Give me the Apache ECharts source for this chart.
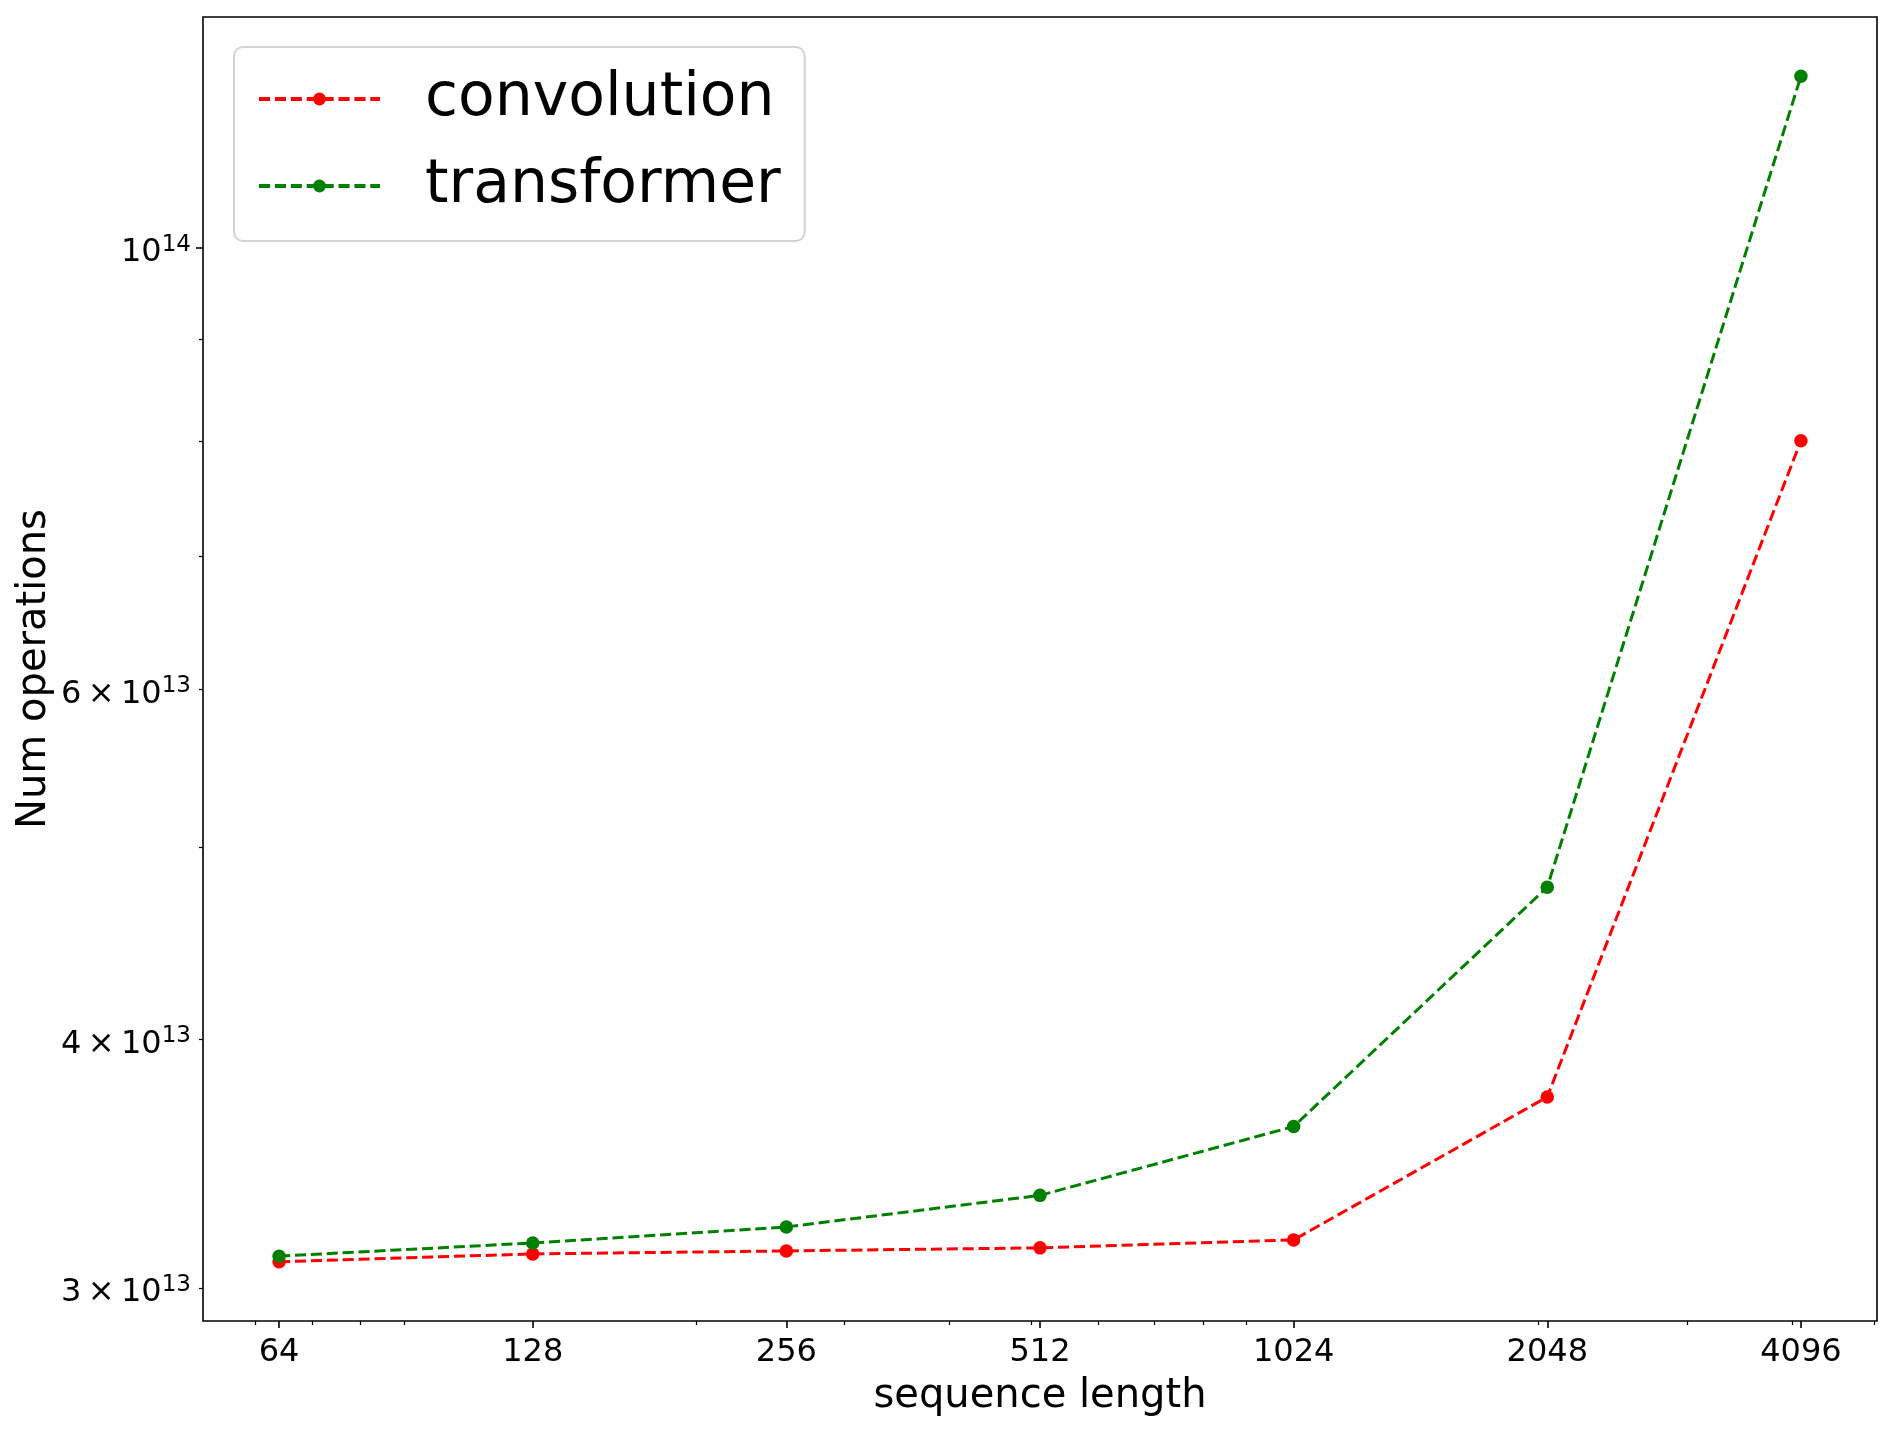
<!DOCTYPE html>
<html>
<head>
<meta charset="utf-8">
<script src="https://cdn.jsdelivr.net/npm/echarts@6/dist/echarts.min.js"></script>
<style>
html, body { margin: 0; padding: 0; background: #fff; }
#chart { width: 1894px; height: 1429px; }
</style>
</head>
<body>
<div id="chart"></div>
<script>
// data (log-log plot)
const seqLen = [64, 128, 256, 512, 1024, 2048, 4096];
const convolution = [3.093e13, 3.121e13, 3.132e13, 3.143e13, 3.172e13, 3.743e13, 8.0e13];
const transformer = [3.113e13, 3.161e13, 3.220e13, 3.340e13, 3.617e13, 4.772e13, 1.22e14];

// tick positions
const xTicks = [64, 128, 256, 512, 1024, 2048, 4096];
const xMinorTicks = [60, 70, 80, 90, 200, 300, 400, 500, 600, 700, 800, 900, 2000, 3000, 4000, 5000];
const yMajorTicks = [1e14];
const yMinorTicks = [3e13, 4e13, 5e13, 6e13, 7e13, 8e13, 9e13];
const yLabelTicks = [3e13, 4e13, 6e13, 1e14];

const FONT = 'DejaVu Sans';
const GRID = { left: 203, top: 17, width: 1674, height: 1304 };
const DASH = [11.1, 4.8];

// matplotlib style 5% margins, in log space
const lx = seqLen.map(Math.log2);
const xLo = Math.min(...lx), xHi = Math.max(...lx);
const xMinL = xLo - 0.05 * (xHi - xLo), xMaxL = xHi + 0.05 * (xHi - xLo);
const ly = convolution.concat(transformer).map(Math.log10);
const yLo = Math.min(...ly), yHi = Math.max(...ly);
const yMinL = yLo - 0.05 * (yHi - yLo), yMaxL = yHi + 0.05 * (yHi - yLo);

function yLabel(v) {
  const val = Math.pow(10, v);
  const e = Math.floor(v + 1e-9);
  const m = Math.round(val / Math.pow(10, e));
  if (m === 1) return '{b|10}{s|' + e + '}';
  return '{b|' + m + '\u2009\u00d7\u200910}{s|' + e + '}';
}

const hidden = { show: false };
const noAxis = { axisLine: hidden, axisTick: hidden, axisLabel: hidden, splitLine: hidden };

const chart = echarts.init(document.getElementById('chart'));
chart.setOption({
  animation: false,
  backgroundColor: '#fff',
  grid: [
    Object.assign({ show: true, borderColor: '#000', borderWidth: 1.6, backgroundColor: 'transparent' }, GRID),
    Object.assign({ show: false }, GRID),
    Object.assign({ show: false }, GRID)
  ],
  xAxis: [
    Object.assign({
      type: 'log', logBase: 2, gridIndex: 0,
      min: Math.pow(2, xMinL), max: Math.pow(2, xMaxL),
      name: 'sequence length', nameLocation: 'middle', nameGap: 56,
      nameTextStyle: { fontSize: 40, fontFamily: FONT, color: '#000' }
    }, noAxis),
    {
      type: 'value', gridIndex: 1, min: xMinL, max: xMaxL,
      axisLine: hidden, splitLine: hidden,
      axisTick: { show: true, length: 7, customValues: xTicks.map(Math.log2), lineStyle: { color: '#000', width: 1.6 } },
      axisLabel: {
        show: true, margin: 15.5, customValues: xTicks.map(Math.log2),
        fontSize: 32, fontFamily: FONT, color: '#000',
        formatter: v => String(Math.round(Math.pow(2, v)))
      }
    },
    {
      type: 'value', gridIndex: 2, min: xMinL, max: xMaxL,
      axisLine: hidden, splitLine: hidden, axisLabel: hidden,
      axisTick: { show: true, length: 4, customValues: xMinorTicks.map(Math.log2), lineStyle: { color: '#000', width: 1.2 } }
    }
  ],
  yAxis: [
    Object.assign({
      type: 'log', logBase: 10, gridIndex: 0,
      min: Math.pow(10, yMinL), max: Math.pow(10, yMaxL),
      name: 'Num operations', nameLocation: 'middle', nameGap: 148,
      nameTextStyle: { fontSize: 40, fontFamily: FONT, color: '#000' }
    }, noAxis),
    {
      type: 'value', gridIndex: 1, min: yMinL, max: yMaxL,
      axisLine: hidden, splitLine: hidden,
      axisTick: { show: true, length: 7, customValues: yMajorTicks.map(Math.log10), lineStyle: { color: '#000', width: 1.6 } },
      axisLabel: {
        show: true, margin: 12, customValues: yLabelTicks.map(Math.log10),
        formatter: yLabel, padding: [10, 0, 0, 0],
        rich: {
          b: { fontSize: 32, fontFamily: FONT, color: '#000', lineHeight: 40 },
          s: { fontSize: 23, fontFamily: FONT, color: '#000', lineHeight: 24, verticalAlign: 'top' }
        }
      }
    },
    {
      type: 'value', gridIndex: 2, min: yMinL, max: yMaxL,
      axisLine: hidden, splitLine: hidden, axisLabel: hidden,
      axisTick: { show: true, length: 4, customValues: yMinorTicks.map(Math.log10), lineStyle: { color: '#000', width: 1.2 } }
    }
  ],
  legend: {
    orient: 'vertical', left: 234, top: 47,
    padding: [18, 24, 21, 23],
    itemGap: 19, itemWidth: 121, itemHeight: 16,
    backgroundColor: '#fff', borderColor: '#d4d4d4', borderWidth: 2, borderRadius: 9,
    lineStyle: { width: 4, type: DASH },
    textStyle: { fontSize: 60, fontFamily: FONT, color: '#000', lineHeight: 68, padding: [0, 0, 0, 40] },
    data: ['convolution', 'transformer']
  },
  series: [
    {
      name: 'convolution', type: 'line', xAxisIndex: 0, yAxisIndex: 0,
      data: seqLen.map((x, i) => [x, convolution[i]]),
      symbol: 'circle', symbolSize: 13.5, showAllSymbol: true,
      lineStyle: { color: '#ff0000', width: 3, type: DASH },
      itemStyle: { color: '#ff0000', borderWidth: 0 }
    },
    {
      name: 'transformer', type: 'line', xAxisIndex: 0, yAxisIndex: 0,
      data: seqLen.map((x, i) => [x, transformer[i]]),
      symbol: 'circle', symbolSize: 13.5, showAllSymbol: true,
      lineStyle: { color: '#008000', width: 3, type: DASH },
      itemStyle: { color: '#008000', borderWidth: 0 }
    }
  ]
});
</script>
</body>
</html>
